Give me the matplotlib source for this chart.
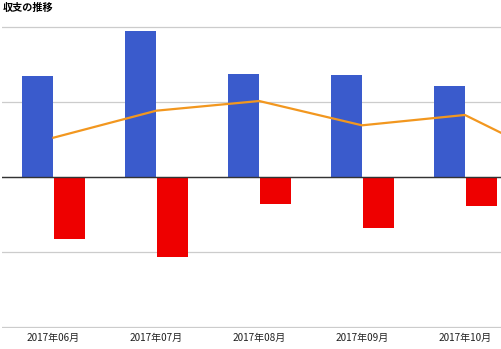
import matplotlib
matplotlib.use("Agg")
import matplotlib.pyplot as plt
import numpy as np

plt.rcParams['font.family'] = ['Noto Sans CJK JP', 'DejaVu Sans']

# 月ごとの収支 (円)
months = ["2017年06月", "2017年07月", "2017年08月", "2017年09月", "2017年10月", "2017年11月"]
income = [134700, 194700, 137300, 136000, 121300, 0]
expense = [-82700, -106300, -35600, -67600, -38300, 0]
balance = [52400, 88400, 101300, 68900, 82700, 15000]

fig = plt.figure(figsize=(5.01, 3.49), dpi=100)
ax = fig.add_axes([2 / 501, 21 / 349, 499 / 501, 302 / 349])

x = np.arange(len(months))
w = 0.3
ax.bar(x - 0.152, income, width=w, color="#3a5bcc", zorder=2)
ax.bar(x + 0.158, expense, width=w, color="#ee0000", zorder=2)
ax.plot(x, balance, color="#f2971f", lw=1.6, zorder=3)

ax.set_yticks([-200000, -100000, 0, 100000, 200000])
ax.yaxis.grid(True, color="#cccccc", lw=0.9, zorder=0)
ax.axhline(0, color="#333333", lw=1.0, zorder=4)
ax.set_yticklabels([])
ax.tick_params(axis="y", length=0)

ax.set_xticks(x)
ax.set_xticklabels(months, fontsize=7.2, color="#222222")
ax.tick_params(axis="x", length=0, pad=3.5)
for s in ax.spines.values():
    s.set_visible(False)

# 右端の月は画面外 (ticks設定の後で範囲を決める)
ax.set_ylim(-201300, 201300)
ax.set_xlim(-0.5, (499 - 53) / 102.5)

fig.text(3 / 501, 1 - 8 / 349, "収支の推移", fontsize=7.3, fontweight="bold", va="center", ha="left")

fig.savefig("out.png", dpi=100)
